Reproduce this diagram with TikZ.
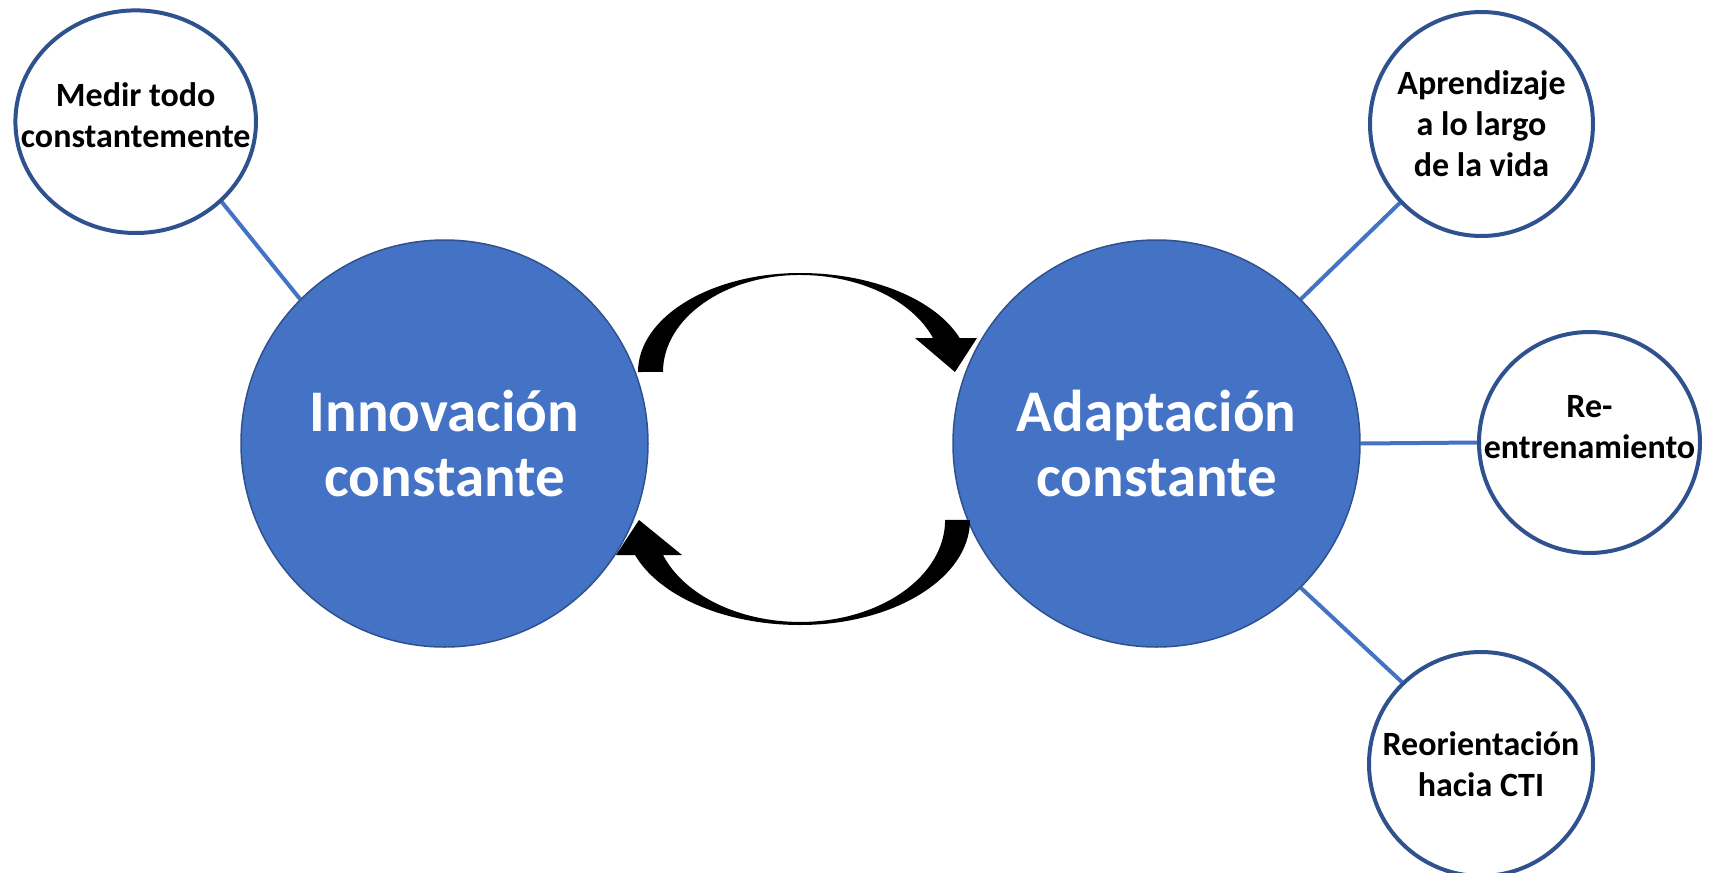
\documentclass[tikz,border=0pt]{standalone}
\usepackage{fontspec}
\setmainfont{Carlito}
\usetikzlibrary{shapes.geometric}
\definecolor{fillblue}{HTML}{4472C4}
\definecolor{darkblue}{HTML}{2F528F}
\definecolor{lineblue}{HTML}{4472C4}
\pgfdeclarelayer{canvas}
\pgfdeclarelayer{links}
\pgfsetlayers{canvas,links,main}
\begin{document}
\begin{tikzpicture}[x=0.5pt,y=-0.5pt,
  big/.style={circle, fill=fillblue, draw=darkblue, line width=0.75pt, minimum size=203.5pt, inner sep=0pt,
    text=white, font=\fontsize{29.5}{32.5}\selectfont\bfseries, align=center},
  small/.style={ellipse, draw=darkblue, line width=2pt, fill=white, inner sep=0pt},
  smalltext/.style={text=black, font=\fontsize{17}{20.5}\selectfont\bfseries, align=center, inner sep=0pt},
  conn/.style={draw=lineblue, line width=2pt},
  curvedarrow/.style={fill=black}
]
\begin{pgfonlayer}{canvas}
\fill[white] (0,0) rectangle (1710,873);
\end{pgfonlayer}
\useasboundingbox (0,0) rectangle (1710,873);

% main circles
\node[big] (L) at (444.5,443.5) {Innovación\\constante};
\node[big] (R) at (1156.5,443.5) {Adaptación\\constante};

% satellites
\node[small, minimum width=120.3pt, minimum height=111.3pt,
  label={[smalltext, yshift=3.5pt]center:Medir todo\\constantemente}] (M) at (135.7,121.7) {};
\node[small, minimum width=111.5pt, minimum height=112pt,
  label={[smalltext]center:Aprendizaje\\a lo largo\\de la vida}] (A) at (1481.5,124) {};
\node[small, minimum width=110.5pt, minimum height=110.5pt,
  label={[smalltext, yshift=7.5pt]center:Re-\\entrenamiento}] (E) at (1589.5,442.5) {};
\node[small, minimum width=112pt, minimum height=112pt,
  label={[smalltext]center:Reorientación\\hacia CTI}] (O) at (1481,764) {};

% connectors
\begin{pgfonlayer}{links}
\draw[conn] (L.135) -- (M.-43.3);
\draw[conn] (R.45.4) -- (A.224.8);
\draw[conn] (R.0) -- (E.180);
\draw[conn] (R.-45.4) -- (O.134.5);
\end{pgfonlayer}

% curved arrows
\fill[curvedarrow] (638,372)
  arc[start angle=180, end angle=90, x radius=81pt, y radius=49.5pt]
  arc[start angle=90, end angle=20, x radius=85pt, y radius=49.5pt]
  -- (977,338) -- (955,372) -- (915,338) -- (933,338)
  arc[start angle=20.5, end angle=90, x radius=71pt, y radius=48.5pt]
  arc[start angle=90, end angle=180, x radius=68.5pt, y radius=48.5pt]
  -- cycle;
\fill[curvedarrow] (970,520)
  arc[start angle=0, end angle=-90, x radius=85pt, y radius=52.5pt]
  arc[start angle=-90, end angle=-160.5, x radius=87.5pt, y radius=52.5pt]
  -- (616,555) -- (639,520) -- (682,555) -- (663,555)
  arc[start angle=-159.9, end angle=-90, x radius=73pt, y radius=51pt]
  arc[start angle=-90, end angle=0, x radius=72.5pt, y radius=51pt]
  -- cycle;
\end{tikzpicture}
\end{document}
